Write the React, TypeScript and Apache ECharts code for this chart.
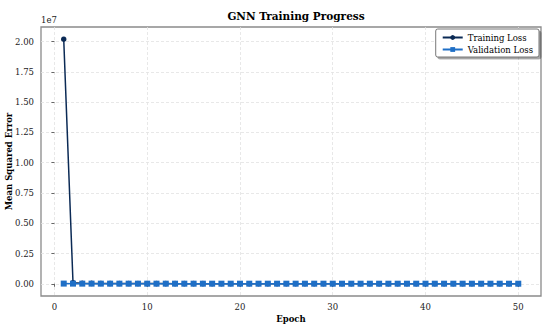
import React, { useEffect, useRef } from "react";
import * as echarts from "echarts";

const epochs: number[] = Array.from({ length: 50 }, (_, i) => i + 1);
const trainingLoss: number[] = [
  20200000, 90000, 42000, 31000, 26000, 22000, 19000, 17000, 15500, 14200,
  13100, 12300, 11600, 11000, 10500, 10100, 9700, 9400, 9100, 8800,
  8600, 8400, 8200, 8000, 7800, 7700, 7500, 7400, 7300, 7200,
  7100, 7000, 6900, 6800, 6700, 6650, 6600, 6500, 6450, 6400,
  6350, 6300, 6250, 6200, 6150, 6100, 6050, 6000, 5950, 5900,
];
const validationLoss: number[] = [
  15000, 12000, 11000, 10500, 10000, 9600, 9300, 9000, 8800, 8600,
  8400, 8200, 8100, 8000, 7900, 7800, 7700, 7600, 7500, 7450,
  7400, 7350, 7300, 7250, 7200, 7150, 7100, 7050, 7000, 6950,
  6900, 6850, 6800, 6750, 6700, 6650, 6600, 6550, 6500, 6450,
  6400, 6350, 6300, 6250, 6200, 6150, 6100, 6050, 6000, 5950,
];
const xTicks: number[] = [0, 10, 20, 30, 40, 50];
const yTicks: number[] = [0, 2.5e6, 5e6, 7.5e6, 1e7, 1.25e7, 1.5e7, 1.75e7, 2e7];

const FONT = "'DejaVu Serif', serif";
const TRAIN_COLOR = "#0b2a55";
const VAL_COLOR = "#1f6fc6";

export default function App() {
  const ref = useRef<HTMLDivElement>(null);
  useEffect(() => {
    if (!ref.current) return;
    const chart = echarts.init(ref.current, null, { renderer: "svg" });
    chart.setOption({
      animation: false,
      backgroundColor: "#ffffff",
      textStyle: { fontFamily: FONT },
      title: {
        text: "GNN Training Progress",
        left: 291,
        textAlign: "center",
        top: 5,
        textStyle: { fontFamily: FONT, fontSize: 10.5, fontWeight: "bold", color: "#000" },
      },
      grid: {
        left: 41,
        right: 9,
        top: 27,
        bottom: 32,
        containLabel: false,
        outerBoundsMode: "none",
        show: true,
        borderColor: "#8a8a8a",
        borderWidth: 1.3,
        backgroundColor: "transparent",
      },
      legend: {
        orient: "vertical",
        right: 11,
        top: 29,
        padding: [4, 6, 3, 6],
        itemGap: 3,
        itemWidth: 20,
        itemHeight: 6,
        backgroundColor: "#fff",
        borderColor: "#555",
        borderWidth: 0.8,
        borderRadius: 2,
        shadowColor: "rgba(0,0,0,0.35)",
        shadowBlur: 0,
        shadowOffsetX: 2,
        shadowOffsetY: 2,
        textStyle: { fontFamily: FONT, fontSize: 8.5, color: "#000" },
        data: ["Training Loss", "Validation Loss"],
      },
      xAxis: {
        type: "value",
        min: -1.45,
        max: 52.45,
        name: "Epoch",
        nameLocation: "middle",
        nameGap: 18,
        nameMoveOverlap: false,
        nameTextStyle: { fontFamily: FONT, fontSize: 8.5, fontWeight: "bold", color: "#000" },
        axisLine: { show: false },
        axisTick: { show: true, customValues: xTicks, length: 3, lineStyle: { color: "#666" } },
        axisLabel: {
          customValues: xTicks,
          fontFamily: FONT,
          fontSize: 8.5,
          color: "#222",
          margin: 6,
        },
        splitLine: { show: true, lineStyle: { color: "#e2e2e2", type: [3, 2], width: 0.8 } },
      },
      yAxis: {
        type: "value",
        min: -1.01e6,
        max: 2.121e7,
        name: "Mean Squared Error",
        nameLocation: "middle",
        nameGap: 28,
        nameMoveOverlap: false,
        nameTextStyle: { fontFamily: FONT, fontSize: 8.5, fontWeight: "bold", color: "#000" },
        axisLine: { show: false },
        axisTick: { show: true, customValues: yTicks, length: 3, lineStyle: { color: "#666" } },
        axisLabel: {
          customValues: yTicks,
          fontFamily: FONT,
          fontSize: 8.5,
          color: "#222",
          margin: 7,
          formatter: (v: number) => (v / 1e7).toFixed(2),
        },
        splitLine: { show: true, lineStyle: { color: "#e2e2e2", type: [3, 2], width: 0.8 } },
      },
      graphic: [
        {
          type: "text",
          left: 41,
          top: 15,
          style: { text: "1e7", fontFamily: FONT, fontSize: 8.5, fill: "#222" },
        },
      ],
      series: [
        {
          name: "Training Loss",
          type: "line",
          data: epochs.map((e, i) => [e, trainingLoss[i]]),
          symbol: "circle",
          symbolSize: 5.5,
          lineStyle: { color: TRAIN_COLOR, width: 1.5 },
          itemStyle: { color: TRAIN_COLOR },
          z: 2,
        },
        {
          name: "Validation Loss",
          type: "line",
          data: epochs.map((e, i) => [e, validationLoss[i]]),
          symbol: "rect",
          symbolSize: 6,
          lineStyle: { color: VAL_COLOR, width: 1.5 },
          itemStyle: { color: VAL_COLOR },
          z: 3,
        },
      ],
    });
    return () => chart.dispose();
  }, []);
  return (
    <div
      ref={ref}
      style={{ position: "fixed", left: 0, top: 0, width: 550, height: 328 }}
    />
  );
}
